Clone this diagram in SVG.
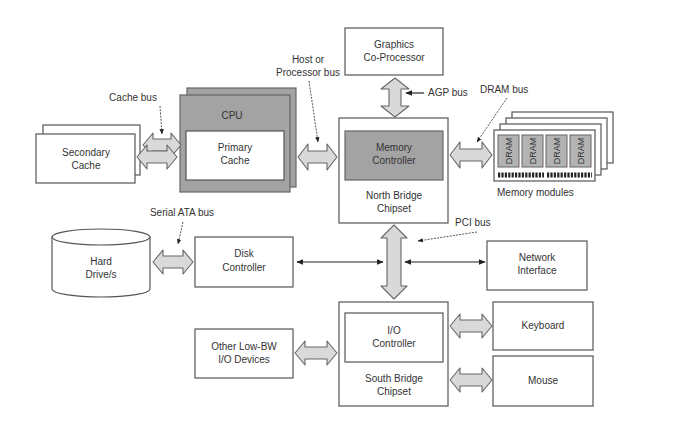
<svg xmlns="http://www.w3.org/2000/svg" width="685" height="445" viewBox="0 0 685 445">
<defs>
<style>
.box{fill:#fff;stroke:#555;stroke-width:1.2}
.gbox{fill:#a3a3a3;stroke:#666;stroke-width:1.2}
.chip{fill:#b3b3b3;stroke:#666;stroke-width:1}
.bus{fill:#d9d9d9;stroke:#666;stroke-width:1.1;stroke-linejoin:round}
.t{font-family:"Liberation Sans",Arial,sans-serif;font-size:10px;fill:#333;text-anchor:middle}
.tl{font-family:"Liberation Sans",Arial,sans-serif;font-size:10px;fill:#333}
.dr{font-family:"Liberation Sans",Arial,sans-serif;font-size:9px;fill:#333;text-anchor:middle}
.lead{stroke:#444;stroke-width:0.9;stroke-dasharray:2 1.2;fill:none}
.line{stroke:#222;stroke-width:1.2;fill:none}
.pins{stroke:#222;stroke-width:5;stroke-dasharray:2.2 1.2;fill:none}
</style>
<marker id="ah" viewBox="0 0 10 10" refX="9" refY="5" markerWidth="6" markerHeight="6" orient="auto-start-reverse">
<path d="M0,1 L10,5 L0,9 Z" fill="#222"/>
</marker>
</defs>
<rect width="685" height="445" fill="#fff"/>

<g id="secondary-cache">
<rect class="box" x="43" y="125" width="97" height="50"/>
<rect class="box" x="36" y="134" width="99" height="49"/>
<text class="t" x="86" y="156">Secondary</text>
<text class="t" x="86" y="169">Cache</text>
</g>

<g id="cpu">
<rect class="gbox" x="187" y="88" width="109" height="99"/>
<rect class="gbox" x="180" y="95" width="110" height="97"/>
<text class="t" x="232" y="119">CPU</text>
<rect class="box" x="186" y="131" width="98" height="49"/>
<text class="t" x="235" y="151">Primary</text>
<text class="t" x="235" y="164">Cache</text>
</g>

<g id="graphics">
<rect class="box" x="345" y="28" width="98" height="47"/>
<text class="t" x="394" y="48">Graphics</text>
<text class="t" x="394" y="61">Co-Processor</text>
</g>

<g id="north-bridge">
<rect class="box" x="339" y="118" width="109" height="105"/>
<rect class="gbox" x="345" y="131" width="98" height="49"/>
<text class="t" x="394" y="151">Memory</text>
<text class="t" x="394" y="164">Controller</text>
<text class="t" x="394" y="199">North Bridge</text>
<text class="t" x="394" y="212">Chipset</text>
</g>

<g id="memory-modules">
<rect class="box" x="512" y="112" width="101" height="51"/>
<rect class="box" x="506" y="118" width="101" height="51"/>
<rect class="box" x="500" y="124" width="101" height="51"/>
<rect class="box" x="494" y="130" width="101" height="51"/>
<rect class="chip" x="498" y="135" width="21" height="32"/>
<rect class="chip" x="522" y="135" width="21" height="32"/>
<rect class="chip" x="546" y="135" width="21" height="32"/>
<rect class="chip" x="570" y="135" width="21" height="32"/>
<text class="dr" transform="translate(511.5,151) rotate(-90)">DRAM</text>
<text class="dr" transform="translate(535.5,151) rotate(-90)">DRAM</text>
<text class="dr" transform="translate(559.5,151) rotate(-90)">DRAM</text>
<text class="dr" transform="translate(583.5,151) rotate(-90)">DRAM</text>
<line class="pins" x1="498" y1="175" x2="544" y2="175"/>
<line class="pins" x1="547" y1="175" x2="592" y2="175"/>
<text class="tl" x="497" y="196">Memory modules</text>
</g>

<g id="hard-drive">
<path class="box" d="M52,237 L52,289 A49,8 0 0 0 150,289 L150,237 Z"/>
<ellipse class="box" cx="101" cy="237" rx="49" ry="8"/>
<text class="t" x="101" y="265">Hard</text>
<text class="t" x="101" y="278">Drive/s</text>
</g>

<g id="disk-controller">
<rect class="box" x="195" y="237" width="98" height="50"/>
<text class="t" x="244" y="257">Disk</text>
<text class="t" x="244" y="271">Controller</text>
</g>

<g id="network-interface">
<rect class="box" x="487" y="241" width="100" height="49"/>
<text class="t" x="537" y="261">Network</text>
<text class="t" x="537" y="274">Interface</text>
</g>

<g id="south-bridge">
<rect class="box" x="339" y="302" width="109" height="104"/>
<rect class="box" x="345" y="313" width="98" height="49"/>
<text class="t" x="394" y="334">I/O</text>
<text class="t" x="394" y="347">Controller</text>
<text class="t" x="394" y="382">South Bridge</text>
<text class="t" x="394" y="395">Chipset</text>
</g>

<g id="other-io">
<rect class="box" x="195" y="329" width="98" height="49"/>
<text class="t" x="244" y="350">Other Low-BW</text>
<text class="t" x="244" y="363">I/O Devices</text>
</g>

<g id="keyboard">
<rect class="box" x="493" y="302" width="100" height="48"/>
<text class="t" x="543" y="329">Keyboard</text>
</g>

<g id="mouse">
<rect class="box" x="493" y="356" width="100" height="50"/>
<text class="t" x="543" y="384">Mouse</text>
</g>

<g id="connectors">
<path class="bus" d="M143,145 L153,133 L153,139 L171,139 L171,133 L181,145 L171,157 L171,151 L153,151 L153,157 Z"/>
<path class="bus" d="M137,157 L147,145 L147,151 L167,151 L167,145 L177,157 L167,169 L167,163 L147,163 L147,169 Z"/>
<path class="bus" d="M298,157 L308,144 L308,151 L327,151 L327,144 L337,157 L327,170 L327,163 L308,163 L308,170 Z"/>
<path class="bus" d="M395,78 L409,89 L401,89 L401,106 L409,106 L395,117 L381,106 L389,106 L389,89 L381,89 Z"/>
<path class="bus" d="M450,155 L460,142 L460,149 L482,149 L482,142 L492,155 L482,168 L482,161 L460,161 L460,168 Z"/>
<path class="bus" d="M153,262 L163,250 L163,256 L183,256 L183,250 L193,262 L183,274 L183,268 L163,268 L163,274 Z"/>
<path class="bus" d="M394,225 L407,238 L401,238 L401,286 L407,286 L394,299 L381,286 L387,286 L387,238 L381,238 Z"/>
<path class="bus" d="M295,353 L305,341 L305,347 L327,347 L327,341 L337,353 L327,365 L327,359 L305,359 L305,365 Z"/>
<path class="bus" d="M450,326 L460,314 L460,320 L482,320 L482,314 L492,326 L482,338 L482,332 L460,332 L460,338 Z"/>
<path class="bus" d="M450,380 L460,368 L460,374 L482,374 L482,368 L492,380 L482,392 L482,386 L460,386 L460,392 Z"/>
<line class="line" x1="297" y1="262" x2="383" y2="262" marker-start="url(#ah)" marker-end="url(#ah)"/>
<line class="line" x1="405" y1="262" x2="485" y2="262" marker-start="url(#ah)" marker-end="url(#ah)"/>
<line class="lead" x1="160" y1="106" x2="162" y2="134" marker-end="url(#ah)"/>
<line class="lead" x1="309" y1="81" x2="318" y2="142" marker-end="url(#ah)"/>
<line class="lead" x1="507" y1="98" x2="477" y2="142" marker-end="url(#ah)"/>
<line class="lead" x1="183" y1="222" x2="178" y2="244" marker-end="url(#ah)"/>
<line class="lead" x1="477" y1="232" x2="418" y2="241" marker-end="url(#ah)"/>
<line class="line" x1="424" y1="93" x2="406" y2="93" marker-end="url(#ah)"/>
</g>

<g id="labels">
<text class="t" x="133" y="101">Cache bus</text>
<text class="t" x="308" y="63">Host or</text>
<text class="t" x="308" y="76">Processor bus</text>
<text class="tl" x="428" y="96">AGP bus</text>
<text class="tl" x="480" y="93">DRAM bus</text>
<text class="t" x="182" y="216">Serial ATA bus</text>
<text class="tl" x="455" y="226">PCI bus</text>
</g>
</svg>
